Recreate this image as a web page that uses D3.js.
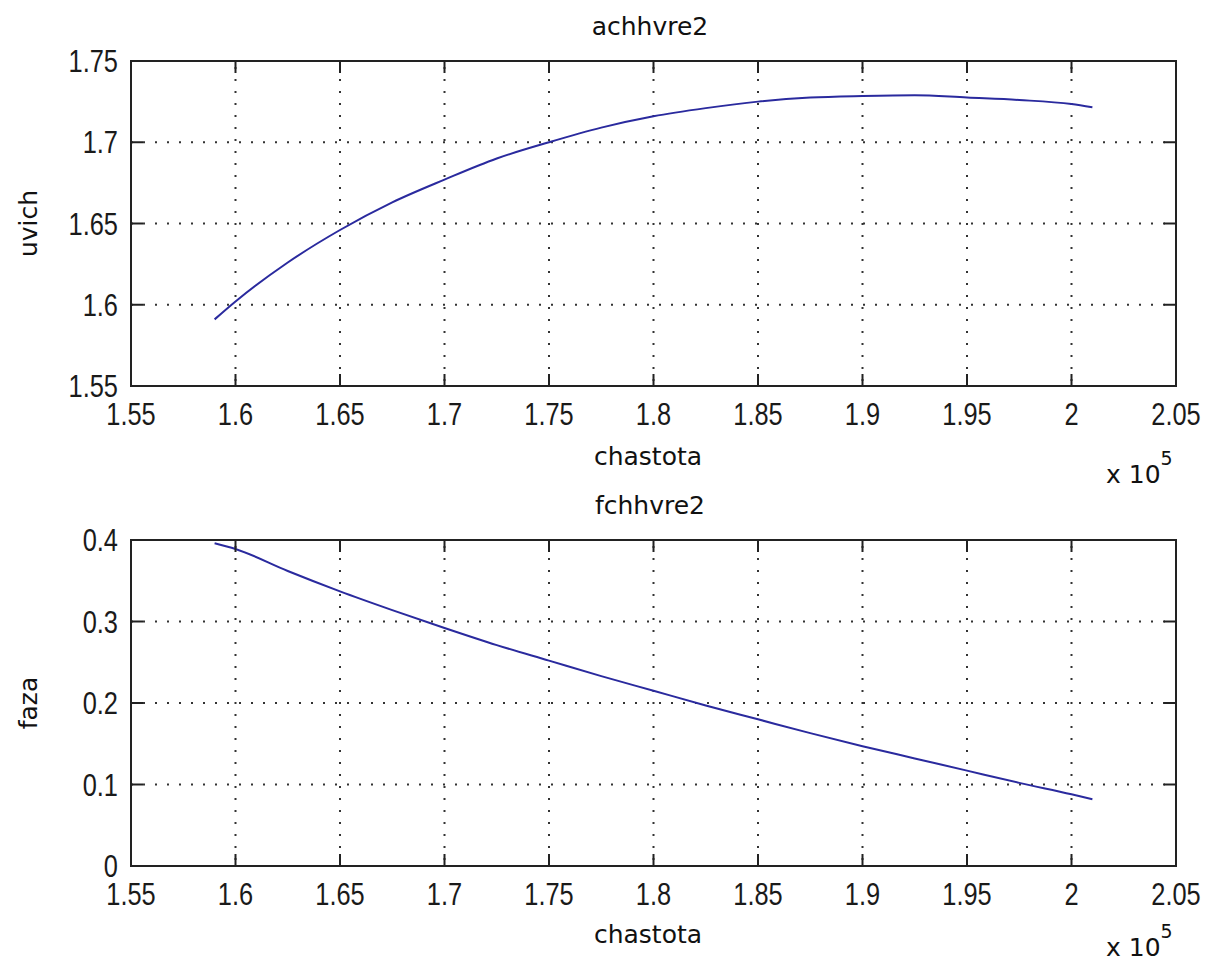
<!DOCTYPE html>
<html>
<head>
<meta charset="utf-8">
<script src="https://cdn.jsdelivr.net/npm/d3@7"></script>
<style>
  body { margin: 0; background: #fff; }
  svg { display: block; }
  .lbl { font-family: "DejaVu Sans", sans-serif; font-size: 25px; fill: #111; }
  .tick-lbl { font-family: "Liberation Sans", Arial, sans-serif; font-size: 31px; fill: #1a1a1a; }
</style>
</head>
<body>
<svg id="fig" width="1210" height="964"></svg>
<script>
// chastota values (Hz)
var freqTop = [159000, 160000, 162500, 165000, 167500, 170000, 172500, 175000, 177500, 180000,
               182500, 185000, 187500, 190000, 192500, 195000, 197500, 200000, 201000]
var uvich   = [1.591, 1.602, 1.626, 1.646, 1.663, 1.677, 1.690, 1.700, 1.709, 1.716,
               1.721, 1.725, 1.7275, 1.7285, 1.729, 1.7275, 1.726, 1.7235, 1.7215]

var freqBot = [159000, 160000, 162500, 165000, 167500, 170000, 172500, 175000, 177500, 180000,
               182500, 185000, 187500, 190000, 192500, 195000, 197500, 200000, 201000]
var faza    = [0.396, 0.389, 0.362, 0.337, 0.314, 0.292, 0.271, 0.252, 0.233, 0.215,
               0.197, 0.180, 0.163, 0.147, 0.132, 0.117, 0.102, 0.088, 0.082]

var xTicks = [155000, 160000, 165000, 170000, 175000, 180000, 185000, 190000, 195000, 200000, 205000]
var xTickLabels = ['1.55', '1.6', '1.65', '1.7', '1.75', '1.8', '1.85', '1.9', '1.95', '2', '2.05']
var yTicksTop = [1.55, 1.6, 1.65, 1.7, 1.75]
var yTickLabelsTop = ['1.55', '1.6', '1.65', '1.7', '1.75']
var yTicksBot = [0, 0.1, 0.2, 0.3, 0.4]
var yTickLabelsBot = ['0', '0.1', '0.2', '0.3', '0.4']

var svg = d3.select('#fig')

function drawPanel(cfg)
{
    var left = 131, right = 1176
    var x = d3.scaleLinear().domain([155000, 205000]).range([left, right])
    var y = d3.scaleLinear().domain(cfg.ydom).range([cfg.bottom, cfg.top])
    var g = svg.append('g')

    // dotted grid
    g.selectAll('.gx').data(xTicks.slice(1, -1)).enter().append('line')
        .attr('x1', function(d) { return x(d) }).attr('x2', function(d) { return x(d) })
        .attr('y1', cfg.top).attr('y2', cfg.bottom)
        .attr('stroke', '#333').attr('stroke-width', 2).attr('stroke-dasharray', '2,10')
        .attr('stroke-dashoffset', -6)
    g.selectAll('.gy').data(cfg.yticks.slice(1, -1)).enter().append('line')
        .attr('y1', function(d) { return y(d) }).attr('y2', function(d) { return y(d) })
        .attr('x1', left).attr('x2', right)
        .attr('stroke', '#333').attr('stroke-width', 2).attr('stroke-dasharray', '2,10')
        .attr('stroke-dashoffset', -12)

    // the curve
    var line = d3.line()
        .x(function(d) { return x(d[0]) })
        .y(function(d) { return y(d[1]) })
        .curve(d3.curveMonotoneX)
    var pts = cfg.xs.map(function(v, i) { return [v, cfg.ys[i]] })
    g.append('path').attr('d', line(pts))
        .attr('fill', 'none').attr('stroke', '#2a2a9e').attr('stroke-width', 2)

    // box
    g.append('rect').attr('x', left).attr('y', cfg.top)
        .attr('width', right - left).attr('height', cfg.bottom - cfg.top)
        .attr('fill', 'none').attr('stroke', '#222').attr('stroke-width', 2)

    // inward ticks on all four sides
    var tl = 12
    xTicks.forEach(function(t) {
        g.append('line').attr('x1', x(t)).attr('x2', x(t)).attr('y1', cfg.bottom).attr('y2', cfg.bottom - tl)
            .attr('stroke', '#222').attr('stroke-width', 2)
        g.append('line').attr('x1', x(t)).attr('x2', x(t)).attr('y1', cfg.top).attr('y2', cfg.top + tl)
            .attr('stroke', '#222').attr('stroke-width', 2)
    })
    cfg.yticks.forEach(function(t) {
        g.append('line').attr('x1', left).attr('x2', left + tl).attr('y1', y(t)).attr('y2', y(t))
            .attr('stroke', '#222').attr('stroke-width', 2)
        g.append('line').attr('x1', right).attr('x2', right - tl).attr('y1', y(t)).attr('y2', y(t))
            .attr('stroke', '#222').attr('stroke-width', 2)
    })

    // tick labels (tall narrow font, so squeeze horizontally)
    xTicks.forEach(function(t, i) {
        g.append('text').attr('class', 'tick-lbl')
            .attr('text-anchor', 'middle')
            .attr('transform', 'translate(' + x(t) + ',' + (cfg.bottom + 39) + ') scale(0.82,1)')
            .text(xTickLabels[i])
    })
    cfg.yticks.forEach(function(t, i) {
        g.append('text').attr('class', 'tick-lbl')
            .attr('text-anchor', 'end')
            .attr('transform', 'translate(118,' + (y(t) + 11) + ') scale(0.82,1)')
            .text(cfg.ylabels[i])
    })

    // titles and axis labels
    g.append('text').attr('class', 'lbl').attr('text-anchor', 'middle')
        .attr('x', 650).attr('y', cfg.top - 26).text(cfg.title)
    g.append('text').attr('class', 'lbl').attr('text-anchor', 'middle')
        .attr('x', 648).attr('y', cfg.bottom + cfg.labOff).text('chastota')
    g.append('text').attr('class', 'lbl').attr('text-anchor', 'middle')
        .attr('transform', 'translate(37,' + ((cfg.top + cfg.bottom) / 2) + ') rotate(-90)')
        .text(cfg.ylabel)

    // x 10^5 multiplier
    var m = g.append('text').attr('class', 'lbl')
        .attr('x', 1106).attr('y', cfg.bottom + cfg.expOff)
    m.append('tspan').text('x 10')
    m.append('tspan').attr('dy', -18).attr('font-size', '19px').text('5')
}

drawPanel({ top: 61, bottom: 386, ydom: [1.55, 1.75], yticks: yTicksTop, ylabels: yTickLabelsTop,
            xs: freqTop, ys: uvich, title: 'achhvre2', ylabel: 'uvich', labOff: 79, expOff: 97 })
drawPanel({ top: 540, bottom: 866, ydom: [0, 0.4], yticks: yTicksBot, ylabels: yTickLabelsBot,
            xs: freqBot, ys: faza, title: 'fchhvre2', ylabel: 'faza', labOff: 77, expOff: 90 })
</script>
</body>
</html>
